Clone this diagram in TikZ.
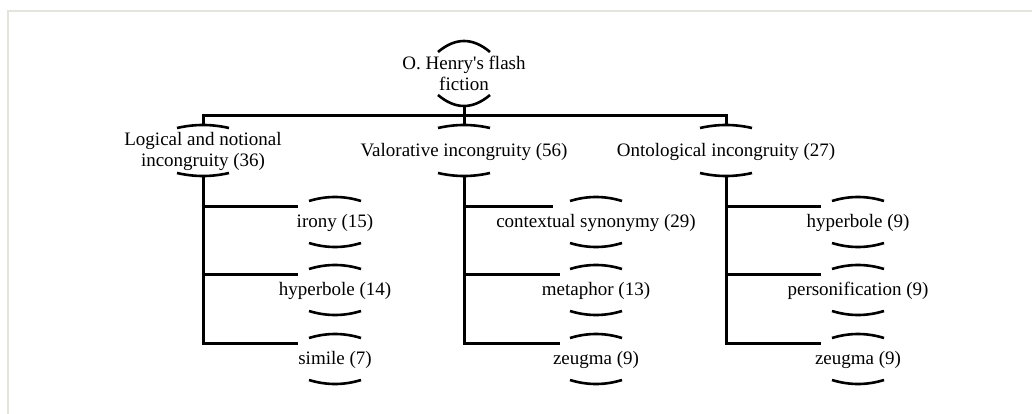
\documentclass[tikz,border=0pt]{standalone}
\usepackage{fontspec}
\setmainfont{Liberation Serif}
\definecolor{framegrey}{RGB}{228,228,222}

% top and bottom arcs round a node: name, top end, top middle, bottom end, bottom middle
\newcommand{\brackets}[5]{%
\pgfmathsetmacro{\topctl}{#2+4/3*(#3-#2)}
\pgfmathsetmacro{\botctl}{#4+4/3*(#5-#4)}
\draw[arcline] ([shift={(-26,#2)}]#1.center) .. controls ([shift={(-8.7,\topctl)}]#1.center) and ([shift={(8.7,\topctl)}]#1.center) .. ([shift={(26,#2)}]#1.center);
\draw[arcline] ([shift={(-26,-#4)}]#1.center) .. controls ([shift={(-8.7,-\botctl)}]#1.center) and ([shift={(8.7,-\botctl)}]#1.center) .. ([shift={(26,-#4)}]#1.center);
\coordinate (#1-t) at ([shift={(0,#3)}]#1.center);
\coordinate (#1-b) at ([shift={(0,-#5)}]#1.center);
}

\begin{document}
\begin{tikzpicture}[x=1pt,y=1pt]
\tikzstyle{lbl} = [align=center, inner sep=0pt, font=\fontsize{19}{21}\selectfont]
\tikzstyle{conn} = [line width=3pt]
\tikzstyle{arcline} = [line width=2.6pt]
\useasboundingbox (0,0) rectangle (1032,-414);
\draw[line width=1.5pt, draw=framegrey] (8,-414) -- (8,-11) -- (1032,-11);

% top level
\node (root) [lbl] at (464,-73) {O. Henry\textquotesingle s flash\\fiction};
\node (log) [lbl] at (203,-151) {Logical and notional\\incongruity (36)};
\node (val) [lbl] at (464,-152) {Valorative incongruity (56)};
\node (ont) [lbl] at (726,-152) {Ontological incongruity (27)};

% second level
\node (irony) [lbl] at (335,-223) {irony (15)};
\node (hyp1) [lbl] at (335,-291) {hyperbole (14)};
\node (simile) [lbl] at (335,-360) {simile (7)};
\node (syn) [lbl] at (596,-223) {contextual synonymy (29)};
\node (meta) [lbl] at (596,-291) {metaphor (13)};
\node (zeug1) [lbl] at (596,-360) {zeugma (9)};
\node (hyp2) [lbl] at (858,-223) {hyperbole (9)};
\node (pers) [lbl] at (858,-291) {personification (9)};
\node (zeug2) [lbl] at (858,-360) {zeugma (9)};

\brackets{root}{21}{32}{22}{33}
\brackets{log}{23}{26}{22}{25}
\brackets{val}{24}{27}{21}{24}
\brackets{ont}{24}{27}{21}{24}
\brackets{irony}{22}{26}{20}{24}
\brackets{hyp1}{22}{26}{20}{24}
\brackets{simile}{22}{26}{20}{24}
\brackets{syn}{22}{26}{20}{24}
\brackets{meta}{22}{26}{20}{24}
\brackets{zeug1}{22}{26}{20}{24}
\brackets{hyp2}{22}{26}{20}{24}
\brackets{pers}{22}{26}{20}{24}
\brackets{zeug2}{22}{26}{20}{24}

\draw[conn] (root-b) -- ++(0,-10) -| (log-t);
\draw[conn] (root-b) -- ++(0,-10) -| (ont-t);
\draw[conn] (root-b) -- (val-t);

\draw[conn] (log-b) |- ([shift={(-37,17)}]irony.center);
\draw[conn] (log-b) |- ([shift={(-37,17)}]hyp1.center);
\draw[conn] (log-b) |- ([shift={(-37,17)}]simile.center);
\draw[conn] (val-b) |- ([shift={(-43,17)}]syn.center);
\draw[conn] (val-b) |- ([shift={(-36,17)}]meta.center);
\draw[conn] (val-b) |- ([shift={(-36,17)}]zeug1.center);
\draw[conn] (ont-b) |- ([shift={(-37,17)}]hyp2.center);
\draw[conn] (ont-b) |- ([shift={(-37,17)}]pers.center);
\draw[conn] (ont-b) |- ([shift={(-37,17)}]zeug2.center);
\end{tikzpicture}
\end{document}
